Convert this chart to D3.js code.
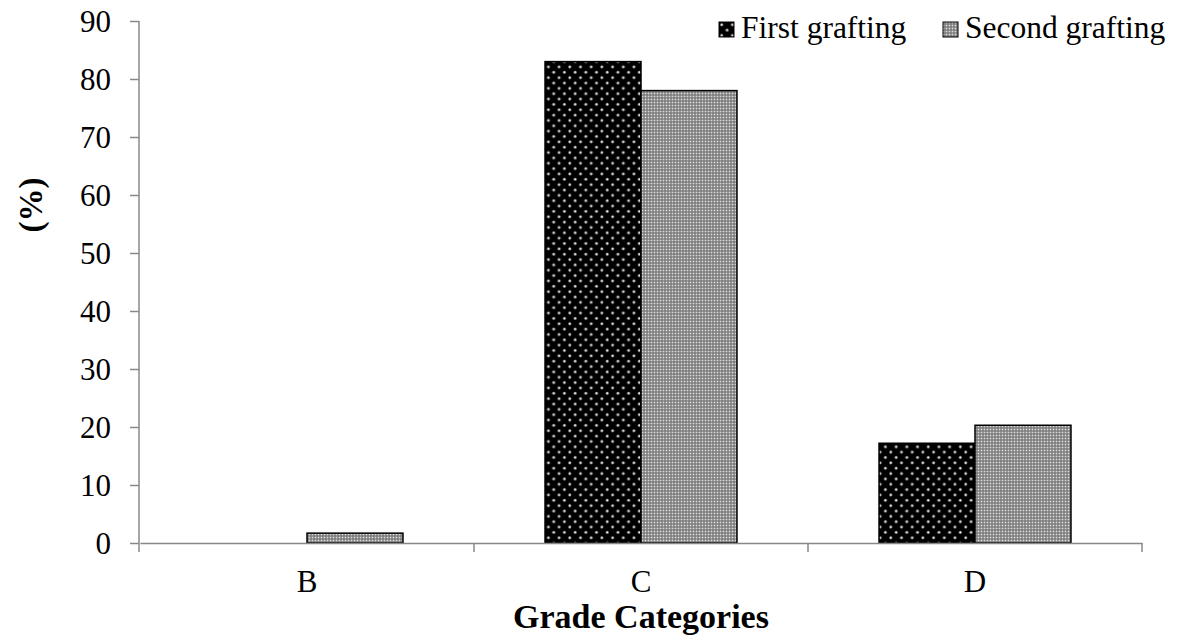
<!DOCTYPE html>
<html>
<head>
<meta charset="utf-8">
<script src="https://cdn.jsdelivr.net/npm/d3@7"></script>
<style>
  body { margin: 0; background: #fff; }
  text { font-family: "Liberation Serif", "Times New Roman", serif; fill: #000; }
</style>
</head>
<body>
<svg id="chart" width="1184" height="641"></svg>
<script>
// chart data
categories = ["B", "C", "D"];
seriesNames = ["First grafting", "Second grafting"];
firstGrafting = [0, 83, 17.2];
secondGrafting = [1.7, 78, 20.3];
yTicks = [0, 10, 20, 30, 40, 50, 60, 70, 80, 90];

let svg = d3.select("#chart");
let plotLeft = 140, plotRight = 1142, plotTop = 21, plotBottom = 543;

let defs = svg.append("defs");
// black with light dots (diagonal lattice)
let p1 = defs.append("pattern")
    .attr("id", "pat1")
    .attr("patternUnits", "userSpaceOnUse")
    .attr("width", 10.7).attr("height", 10.7);
p1.append("rect").attr("width", 10.7).attr("height", 10.7).attr("fill", "#000");
p1.append("circle").attr("cx", 2.7).attr("cy", 2.7).attr("r", 1.6).attr("fill", "#8a8a8a");
p1.append("circle").attr("cx", 2.7).attr("cy", 2.7).attr("r", 0.9).attr("fill", "#e6e6e6");
p1.append("circle").attr("cx", 8.05).attr("cy", 8.05).attr("r", 1.6).attr("fill", "#8a8a8a");
p1.append("circle").attr("cx", 8.05).attr("cy", 8.05).attr("r", 0.9).attr("fill", "#e6e6e6");
// fine grey check
let p2 = defs.append("pattern")
    .attr("id", "pat2")
    .attr("patternUnits", "userSpaceOnUse")
    .attr("width", 3).attr("height", 3);
p2.append("rect").attr("width", 3).attr("height", 3).attr("fill", "#9a9a9a");
p2.append("rect").attr("x", 0).attr("y", 0).attr("width", 1).attr("height", 1).attr("fill", "#e0e0e0");
p2.append("rect").attr("x", 1.5).attr("y", 1.5).attr("width", 1).attr("height", 1).attr("fill", "#3a3a3a");

let fills = ["url(#pat1)", "url(#pat2)"];

let x = d3.scaleBand().domain(categories).range([plotLeft, plotRight]);
let xInner = d3.scaleBand().domain([0, 1]).range([0, x.bandwidth()]).paddingOuter(0.74).paddingInner(0);
let y = d3.scaleLinear().domain([0, 90]).range([plotBottom, plotTop]);

// bars
let series = [firstGrafting, secondGrafting];
series.forEach(function(vals, s) {
    svg.append("g").selectAll("rect")
        .data(vals).enter()
        .append("rect")
        .attr("x", (d, i) => x(categories[i]) + xInner(s))
        .attr("y", d => y(d))
        .attr("width", xInner.bandwidth())
        .attr("height", d => plotBottom - y(d))
        .attr("fill", fills[s])
        .attr("stroke", d => d > 0 ? "#000" : "none")
        .attr("stroke-width", 1.5);
});

// y axis
let yAxis = svg.append("g")
    .attr("transform", "translate(" + (plotLeft - 1) + ",0)")
    .call(d3.axisLeft(y).tickValues(yTicks).tickSize(9).tickPadding(19).tickSizeOuter(0));
yAxis.select(".domain").attr("stroke", "#888").attr("stroke-width", 1.5)
    .attr("d", "M0," + (plotBottom + 9) + "V" + plotTop);
yAxis.selectAll(".tick line").attr("stroke", "#888").attr("stroke-width", 1.5);
yAxis.selectAll(".tick text").style("font-size", "31px").attr("fill", "#000")
    .attr("dy", "0.34em")
    .style("font-family", "'Liberation Serif', serif");

// x axis
let xAxis = svg.append("g")
    .attr("transform", "translate(0," + plotBottom + ")")
    .call(d3.axisBottom(x).tickSize(0).tickPadding(27));
xAxis.select(".domain").attr("stroke", "#888").attr("stroke-width", 1.5);
xAxis.selectAll(".tick text").style("font-size", "31px").attr("fill", "#000")
    .style("font-family", "'Liberation Serif', serif");
// boundary ticks between categories
let bounds = categories.map(c => x(c)).concat([x(categories[categories.length - 1]) + x.bandwidth()]);
xAxis.selectAll(".bound")
    .data(bounds.slice(1)).enter()
    .append("line")
    .attr("x1", d => d).attr("x2", d => d)
    .attr("y1", 0).attr("y2", 9)
    .attr("stroke", "#888").attr("stroke-width", 1.5);

// axis titles
svg.append("text")
    .attr("x", (plotLeft + plotRight) / 2)
    .attr("y", 628)
    .attr("text-anchor", "middle")
    .style("font-size", "34px")
    .style("font-weight", "bold")
    .text("Grade Categories");

svg.append("text")
    .attr("transform", "translate(42,205) rotate(-90)")
    .attr("text-anchor", "middle")
    .style("font-size", "33px")
    .style("font-weight", "bold")
    .text("(%)");

// legend
let legendX = [719, 943];
let legend = svg.append("g").selectAll("g")
    .data(seriesNames).enter()
    .append("g")
    .attr("transform", (d, i) => "translate(" + legendX[i] + ",22)");
legend.append("rect")
    .attr("x", 0).attr("y", 0)
    .attr("width", 15).attr("height", 15)
    .attr("fill", (d, i) => fills[i])
    .attr("stroke", "#000").attr("stroke-width", 1);
legend.append("text")
    .attr("x", 22).attr("y", 16)
    .style("font-size", "31.5px")
    .text(d => d);
</script>
</body>
</html>
